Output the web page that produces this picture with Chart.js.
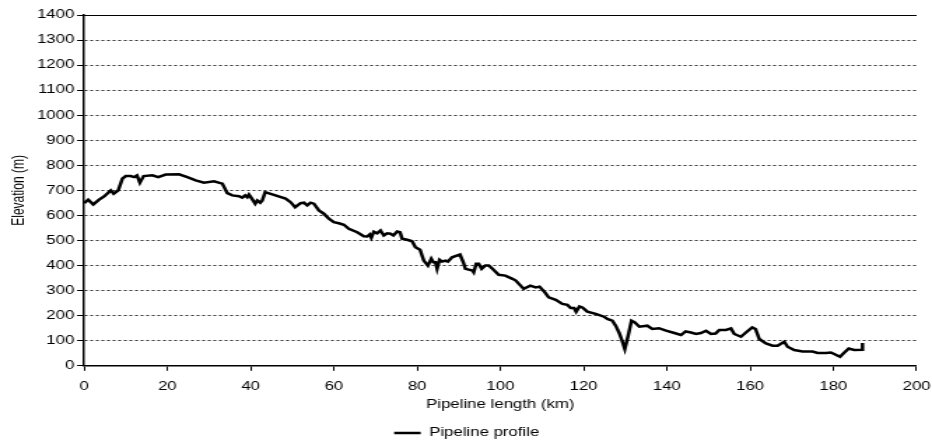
<!DOCTYPE html>
<html lang="en">
<head>
<meta charset="UTF-8">
<title>Pipeline profile</title>
<script src="https://cdn.jsdelivr.net/npm/chart.js"></script>
<style>
  html, body { margin: 0; padding: 0; background: #fff; }
</style>
</head>
<body>
<!-- the picture is stretched sideways, so the canvas is drawn narrow and widened by its style -->
<canvas id="profil" width="666" height="443" style="width:932px;height:443px;display:block"></canvas>
<script>
// distance along the pipeline (km) and ground elevation (m)
const distanceKm = [
  0, 1.0, 2.2, 3.6, 4.8, 6.4, 7.1, 8.2, 9.2, 10.0, 11.2, 12.0, 12.7, 13.4, 14.3, 16.4, 17.8, 19.6, 22.8, 24.8,
  26.8, 28.8, 31.2, 33.2, 34.4, 35.6, 37.2, 38.0, 38.7, 39.2, 39.6, 40.3, 41.1, 41.6, 42.3, 42.8, 43.5, 45.2, 48.4, 49.6,
  50.7, 52.0, 52.8, 53.6, 54.4, 55.2, 56.4, 57.6, 58.8, 60.0, 61.2, 62.4, 63.6, 65.6, 67.2, 68.0, 68.6, 69.0, 69.6, 70.4,
  71.2, 72.0, 72.8, 73.6, 74.3, 75.2, 75.9, 76.4, 77.6, 78.8, 79.6, 80.7, 81.6, 82.6, 83.4, 83.9, 84.4, 84.8, 85.4, 86.0,
  86.8, 87.4, 88.4, 89.5, 90.3, 91.1, 91.6, 92.4, 93.3, 93.6, 94.2, 94.8, 95.5, 96.4, 97.2, 98.1, 99.6, 101.2, 102.9, 103.7,
  105.6, 107.2, 108.5, 109.4, 110.7, 111.6, 113.3, 114.9, 116.1, 116.9, 117.7, 118.2, 119.0, 119.7, 120.9, 122.9, 124.9, 125.7, 126.9, 127.7,
  128.5, 129.1, 129.9, 130.7, 131.5, 132.3, 133.4, 135.3, 136.5, 138.1, 139.8, 141.8, 143.4, 144.5, 145.8, 147.0, 148.2, 149.4, 150.6, 151.7,
  152.6, 154.2, 155.4, 156.2, 157.8, 159.0, 160.5, 161.3, 162.2, 163.8, 165.4, 166.6, 168.2, 169.0, 170.6, 172.6, 175.0, 176.2, 178.2, 179.4,
  180.2, 181.6, 182.4, 183.7, 185.0, 187.0, 187.0
];
const elevationM = [
  649, 663, 644, 663, 676, 700, 687, 700, 747, 757, 757, 753, 760, 731, 757, 760, 753, 763, 764, 753,
  740, 731, 736, 727, 689, 680, 677, 671, 680, 673, 683, 667, 647, 660, 651, 660, 693, 684, 667, 653,
  633, 649, 651, 640, 651, 647, 620, 607, 587, 573, 569, 563, 547, 533, 517, 516, 524, 511, 535, 529,
  540, 520, 529, 527, 520, 536, 533, 507, 503, 497, 473, 463, 420, 400, 427, 413, 413, 387, 423, 416,
  420, 416, 433, 440, 444, 413, 387, 384, 380, 373, 407, 407, 387, 400, 400, 387, 363, 360, 347, 340,
  307, 320, 313, 316, 293, 273, 263, 247, 243, 231, 231, 216, 237, 233, 216, 207, 196, 187, 180, 160,
  133, 107, 67, 120, 180, 173, 156, 160, 147, 150, 140, 131, 123, 137, 133, 127, 131, 140, 127, 129,
  143, 143, 149, 127, 116, 133, 153, 147, 107, 89, 80, 80, 96, 76, 63, 57, 57, 51, 51, 53,
  47, 36, 49, 69, 63, 64, 91
];

const xMax = 200, xStep = 20;
const yMax = 1400, yStep = 100;

const police = { family: "'Liberation Sans', Arial, sans-serif", size: 12 };
// taller line box for the km labels: pushes them down without widening the right margin
const policeKm = { family: "'Liberation Sans', Arial, sans-serif", size: 12, lineHeight: 2.4 };

const points = distanceKm.map((km, i) => ({ x: km, y: elevationM[i] }));

new Chart(document.getElementById('profil'), {
  type: 'line',
  data: {
    datasets: [{
      label: 'Pipeline profile',
      data: points,
      borderColor: '#000',
      backgroundColor: '#000',
      borderWidth: 2.5,
      pointRadius: 0,
      tension: 0,
      fill: false
    }]
  },
  options: {
    responsive: false,
    animation: false,
    layout: { padding: { left: 3, right: 2, top: 15, bottom: -6 } },
    plugins: {
      tooltip: { enabled: false },
      legend: {
        position: 'bottom',
        labels: {
          color: '#000',
          font: police,
          usePointStyle: true,
          pointStyle: 'line',
          pointStyleWidth: 19,
          padding: 1
        }
      }
    },
    scales: {
      x: {
        type: 'linear',
        min: 0,
        max: xMax,
        ticks: { stepSize: xStep, color: '#000', font: policeKm, padding: 1, maxRotation: 0 },
        grid: { drawOnChartArea: false, drawTicks: true, tickLength: 5, tickColor: '#000', tickWidth: 1 },
        border: { color: '#000', width: 1.5 },
        title: { display: true, text: 'Pipeline length (km)', color: '#000', font: police, padding: { top: -4, bottom: 14 } }
      },
      // only there for the solid line along the top of the plot
      xHaut: {
        type: 'linear',
        position: 'top',
        min: 0,
        max: xMax,
        ticks: { display: false },
        grid: { display: false, drawTicks: false },
        border: { display: true, color: '#000', width: 1 }
      },
      y: {
        min: 0,
        max: yMax,
        ticks: { stepSize: yStep, color: '#000', font: police, padding: 2, callback: v => String(v) },
        grid: { color: '#333', lineWidth: 1, tickLength: 5, tickColor: '#000', tickBorderDash: [] },
        border: { color: '#000', width: 1.5, dash: [2, 2] },
        title: { display: true, text: 'Elevation (m)', color: '#000', font: police, padding: { top: 3, bottom: 4 } }
      }
    }
  }
});
</script>
</body>
</html>
